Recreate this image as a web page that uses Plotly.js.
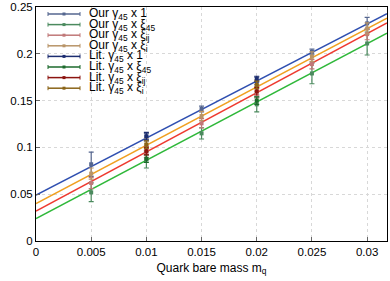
<!DOCTYPE html>
<html><head><meta charset="utf-8">
<script src="https://cdn.plot.ly/plotly-3.0.1.min.js"></script>
<style>html,body{margin:0;padding:0;background:#fff}#c{width:390px;height:281px}</style>
</head><body><div id="c"></div>
<script>
// quark masses
const mq = [0.005, 0.01, 0.015, 0.02, 0.025, 0.03];
// "Our" results
const our1 = [0.082, 0.111, 0.141, 0.171, 0.202, 0.2325];
const our1Err = [0.013, 0.004, 0.003, 0.004, 0.003, 0.0065];
const our45 = [0.052, 0.087, 0.115, 0.146, 0.179, 0.211];
const our45Err = [0.010, 0.009, 0.006, 0.008, 0.011, 0.0123];
const ourIJ = [0.062, 0.095, 0.1257, 0.159, 0.189, 0.221];
const ourIJErr = [0.006, 0.006, 0.005, 0.006, 0.005, 0.006];
const ourI = [0.072, 0.103, 0.1335, 0.166, 0.197, 0.227];
const ourIErr = [0.006, 0.006, 0.005, 0.006, 0.005, 0.006];
// Literature results
const mqLit = [0.01, 0.02];
const lit1 = [0.112, 0.173];
const lit1Err = [0.004, 0.003];
const lit45 = [0.088, 0.150];
const lit45Err = [0.004, 0.004];
const litIJ = [0.096, 0.160];
const litIJErr = [0.004, 0.004];
const litI = [0.103, 0.1667];
const litIErr = [0.004, 0.004];
// fit lines (end points)
const fitX = [0, 0.0318];
const fit1 = [0.049, 0.243];
const fit45 = [0.024, 0.222];
const fitIJ = [0.032, 0.233];
const fitI = [0.040, 0.238];

const names = [
 'Our γ<sub>45</sub> x 1','Our γ<sub>45</sub> x ξ<sub>45</sub>','Our γ<sub>45</sub> x ξ<sub>ij</sub>','Our γ<sub>45</sub> x ξ<sub>i</sub>',
 'Lit. γ<sub>45</sub> x 1','Lit. γ<sub>45</sub> x ξ<sub>45</sub>','Lit. γ<sub>45</sub> x ξ<sub>ij</sub>','Lit. γ<sub>45</sub> x ξ<sub>i</sub>'];
const colors = ['#55668f','#4b8a5e','#c07878','#b89468','#1c2d70','#1d6a2c','#8c1410','#8a6418'];

function fit(y, c){return {x: fitX, y: y, mode:'lines', line:{color:c, width:1.5}, showlegend:false, hoverinfo:'skip'};}
function pts(x, y, e, c, n){return {x:x, y:y, name:n, mode:'markers', showlegend:false,
  marker:{color:c, size:4, symbol:'square'},
  error_y:{type:'data', array:e, visible:true, color:c, thickness:1.2, width:2.5}};}

const data = [
  fit(fit1,'#2f4fb0'), fit(fitI,'#f0a020'), fit(fitIJ,'#ee3a30'), fit(fit45,'#2fb83a'),
  pts(mq, our1, our1Err, colors[0], names[0]),
  pts(mq, our45, our45Err, colors[1], names[1]),
  pts(mq, ourIJ, ourIJErr, colors[2], names[2]),
  pts(mq, ourI, ourIErr, colors[3], names[3]),
  pts(mqLit, lit1, lit1Err, colors[4], names[4]),
  pts(mqLit, lit45, lit45Err, colors[5], names[5]),
  pts(mqLit, litIJ, litIJErr, colors[6], names[6]),
  pts(mqLit, litI, litIErr, colors[7], names[7]),
];

// manual legend (gnuplot style key), placed in paper coordinates
const W = 390, H = 281, ML = 36, MR = 3, MT = 7, MB = 40;
const pw = W - ML - MR, ph = H - MT - MB;
const px = p => (p - ML) / pw;
const py = p => 1 - (p - MT) / ph;
const shapes = [], annotations = [];
names.forEach((n, i) => {
  const yc = 14 + i * 10.6;
  const c = colors[i];
  const base = {xref:'paper', yref:'paper', line:{color:c, width:1.5}};
  shapes.push(Object.assign({type:'line', x0:px(48), x1:px(80), y0:py(yc), y1:py(yc)}, base));
  shapes.push(Object.assign({type:'line', x0:px(48), x1:px(48), y0:py(yc-2), y1:py(yc+2)}, base, {line:{color:c, width:1}}));
  shapes.push(Object.assign({type:'line', x0:px(80), x1:px(80), y0:py(yc-2), y1:py(yc+2)}, base, {line:{color:c, width:1}}));
  shapes.push({type:'rect', xref:'paper', yref:'paper', x0:px(62.5), x1:px(65.5), y0:py(yc-1.5), y1:py(yc+1.5),
    fillcolor:c, line:{width:0}});
  annotations.push({xref:'paper', yref:'paper', x:px(87), y:py(yc), xanchor:'left', yanchor:'middle',
    text:n, showarrow:false, font:{size:12, color:'#000'}});
});

const ax = {showline:true, linecolor:'#000', linewidth:1, mirror:true, ticks:'inside', ticklen:4,
  tickcolor:'#666', showgrid:true, gridcolor:'#d8d8d8', griddash:'dot', gridwidth:1, zeroline:false,
  tickfont:{size:11.5, color:'#000'}};
const layout = {
  width:W, height:H, margin:{l:ML, r:MR, t:MT, b:MB},
  paper_bgcolor:'#fff', plot_bgcolor:'#fff',
  font:{family:'Liberation Sans, Arial, sans-serif', size:11.5, color:'#000'},
  xaxis:Object.assign({}, ax, {range:[0,0.0318], tickvals:[0,0.005,0.01,0.015,0.02,0.025,0.03],
    ticktext:['0','0.005','0.01','0.015','0.02','0.025','0.03'],
    title:{text:'Quark bare mass m<sub>q</sub>', font:{size:12}, standoff:6}}),
  yaxis:Object.assign({}, ax, {range:[0,0.25], tickvals:[0,0.05,0.1,0.15,0.2,0.25],
    ticktext:['0','0.05','0.1','0.15','0.2','0.25']}),
  shapes: shapes, annotations: annotations,
  showlegend:false
};
Plotly.newPlot('c', data, layout, {staticPlot:true, displayModeBar:false});
</script></body></html>
